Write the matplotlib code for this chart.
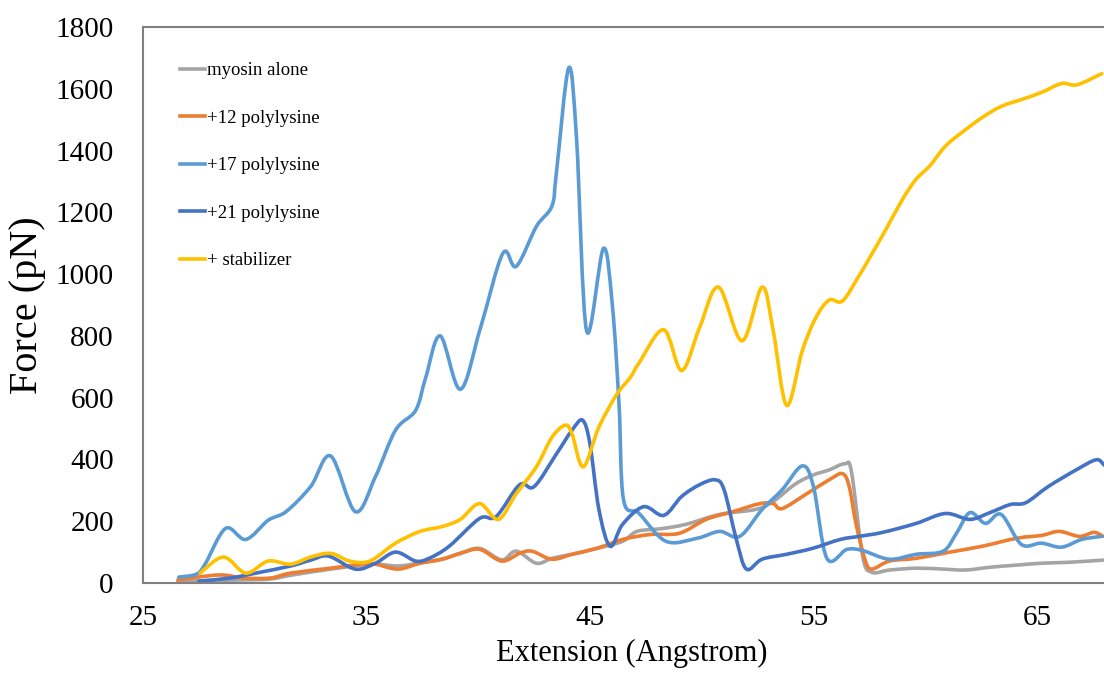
import matplotlib
matplotlib.use('Agg')
import matplotlib.pyplot as plt
from matplotlib.path import Path
from matplotlib.patches import PathPatch
from matplotlib.lines import Line2D

plt.rcParams['font.family'] = ['Liberation Serif', 'DejaVu Serif']

# myosin alone
x_myosin = [26.56, 28.0, 29.5, 30.7, 31.6, 33.4, 34.8, 35.4, 36.4, 37.4, 38.4, 39.2, 40.06, 41.05,
            41.7, 42.6, 43.3, 44.2, 45.3, 46.46, 47.1, 48.2, 49.3, 50.8, 52.4, 53.2, 54.2, 55.0,
            55.7, 56.4, 56.7, 57.2, 57.6, 58.4, 59.6, 60.8, 61.8, 62.9, 64.1, 65.2, 66.4, 67.96]
y_myosin = [5, 8, 10, 13, 25, 45, 58, 62, 55, 65, 78, 96, 112, 75,
            103, 64, 80, 93, 112, 135, 167, 176, 190, 222, 238, 264, 321, 350,
            366, 386, 360, 87, 35, 42, 48, 45, 42, 51, 58, 64, 67, 74]

# +12 polylysine
x_k12 = [26.56, 28.4, 29.5, 30.7, 31.6, 33.4, 34.8, 35.4, 36.4, 37.4, 38.4, 39.2, 40.06, 41.05,
         41.85, 42.4, 43.3, 44.2, 45.3, 46.46, 47.7, 49.0, 50.2, 51.4, 52.6, 53.2, 53.6, 54.7,
         55.7, 56.3, 56.6, 56.9, 57.3, 57.6, 58.4, 59.6, 61.1, 62.55, 64.1, 65.2, 66.0, 66.9,
         67.55, 67.96]
y_k12 = [10, 26, 16, 16, 32, 48, 61, 61, 45, 64, 77, 96, 109, 71,
         96, 103, 77, 93, 112, 141, 157, 161, 206, 231, 257, 257, 241, 289,
         334, 354, 312, 193, 77, 45, 71, 80, 100, 119, 145, 154, 167, 151,
         164, 151]

# +17 polylysine
x_k17 = [26.6, 27.4, 27.8, 28.7, 29.6, 30.6, 31.4, 32.5, 33.4, 34.5, 35.4, 36.3, 37.2, 37.65,
         38.3, 39.2, 40.1, 41.1, 41.7, 42.6, 43.3, 43.5, 44.05, 44.4, 44.85, 45.6, 46.0, 46.3,
         46.5, 47.2, 48.4, 49.8, 50.8, 51.7, 52.7, 53.6, 54.5, 55.0, 55.6, 56.5, 57.2, 58.4,
         59.6, 60.8, 61.4, 62.0, 62.7, 63.4, 64.3, 65.2, 66.1, 67.0, 67.9]
y_k17 = [19, 29, 64, 177, 141, 203, 231, 312, 411, 231, 344, 495, 559, 665,
         800, 627, 826, 1067, 1025, 1154, 1221, 1330, 1668, 1437, 816, 1083, 900, 579,
         270, 225, 135, 145, 167, 151, 238, 302, 379, 312, 80, 109, 105, 77,
         93, 103, 161, 228, 193, 222, 125, 129, 116, 141, 151]

# +21 polylysine
x_k21 = [27.5, 28.9, 30.05, 31.6, 32.5, 33.3, 34.5, 35.4, 36.3, 37.2, 37.8, 38.7, 40.06, 40.8,
         41.85, 42.5, 43.5, 44.2, 44.67, 45.0, 45.4, 45.9, 46.46, 47.4, 48.3, 49.1, 49.9, 50.6,
         51.0, 51.55, 52.0, 52.7, 53.8, 54.95, 56.2, 57.05, 58.1, 59.6, 60.9, 62.0, 62.9, 63.8,
         64.5, 65.5, 66.75, 67.65, 68.0]
y_k21 = [6, 16, 32, 55, 74, 87, 45, 64, 100, 71, 80, 119, 209, 215,
         318, 312, 418, 495, 527, 450, 238, 119, 190, 247, 219, 280, 318, 334,
         302, 141, 45, 77, 93, 112, 141, 151, 164, 193, 225, 206, 228, 254,
         260, 312, 366, 399, 382]

# + stabilizer
x_stab = [27.55, 28.6, 29.6, 30.6, 31.6, 32.5, 33.4, 34.25, 35.15, 36.3, 37.4, 38.4, 39.2, 40.06,
          40.9, 41.7, 42.6, 43.3, 43.9, 44.2, 44.7, 45.4, 46.2, 46.8, 47.2, 48.3, 49.1, 49.9,
          50.75, 51.8, 52.7, 53.2, 53.8, 54.5, 55.1, 55.7, 56.3, 57.05, 57.5, 58.26, 59.0, 59.6,
          60.2, 60.9, 61.65, 62.55, 63.4, 64.3, 65.2, 66.1, 66.8, 67.9]
y_stab = [32, 84, 32, 71, 61, 84, 96, 71, 71, 129, 167, 183, 206, 257,
          206, 289, 376, 472, 511, 482, 376, 505, 611, 665, 713, 820, 688, 826,
          958, 784, 958, 816, 575, 752, 858, 916, 913, 996, 1051, 1147, 1244, 1308,
          1350, 1414, 1459, 1507, 1543, 1565, 1588, 1617, 1613, 1649]

series = [
    (x_myosin, y_myosin, 'myosin alone', '#A5A5A5'),
    (x_k12, y_k12, '+12 polylysine', '#ED7D31'),
    (x_k17, y_k17, '+17 polylysine', '#5B9BD5'),
    (x_k21, y_k21, '+21 polylysine', '#4472C4'),
    (x_stab, y_stab, '+ stabilizer', '#FFC000'),
]


def smooth_path(xs, ys):
    # Excel-style "smoothed line": cubic bezier through every point
    pts = list(zip(xs, ys))
    n = len(pts)
    verts = [pts[0]]
    codes = [Path.MOVETO]
    for i in range(n - 1):
        p0 = pts[max(i - 1, 0)]
        p1 = pts[i]
        p2 = pts[i + 1]
        p3 = pts[min(i + 2, n - 1)]
        c1 = (p1[0] + (p2[0] - p0[0]) / 6, p1[1] + (p2[1] - p0[1]) / 6)
        c2 = (p2[0] - (p3[0] - p1[0]) / 6, p2[1] - (p3[1] - p1[1]) / 6)
        verts += [c1, c2, p2]
        codes += [Path.CURVE4] * 3
    return Path(verts, codes)


fig = plt.figure(figsize=(11.04, 6.73), dpi=100)
ax = fig.add_axes([143 / 1104, 90 / 673, 961 / 1104, 556 / 673])

handles = []
for xs, ys, name, col in series:
    ax.add_patch(PathPatch(smooth_path(xs, ys), facecolor='none', edgecolor=col, lw=2.6,
                           joinstyle='round', capstyle='round'))
    handles.append(Line2D([], [], color=col, lw=2.6, label=name))

ax.set_xlim(25, 68)
ax.set_ylim(0, 1800)
ax.set_xticks([25, 35, 45, 55, 65])
ax.set_yticks(range(0, 1801, 200))
ax.tick_params(axis='both', length=0, labelsize=21)
ax.tick_params(axis='x', pad=16)
ax.tick_params(axis='y', pad=21)

for s in ['left', 'top', 'bottom']:
    ax.spines[s].set_color('#808080')
    ax.spines[s].set_linewidth(1.5)
ax.spines['right'].set_visible(False)

ax.set_xlabel('Extension (Angstrom)', fontsize=22)
ax.set_ylabel('Force (pN)', fontsize=29)
ax.xaxis.set_label_coords(0.509, -0.1)
ax.yaxis.set_label_coords(-0.101, 0.5)

ax.legend(handles=handles, loc='upper left', bbox_to_anchor=(0.0385, 0.9365), frameon=False,
          fontsize=13.5, handlelength=1.35, handletextpad=0.1, labelspacing=1.62,
          borderpad=0, borderaxespad=0)

fig.savefig('out.png', dpi=100)
